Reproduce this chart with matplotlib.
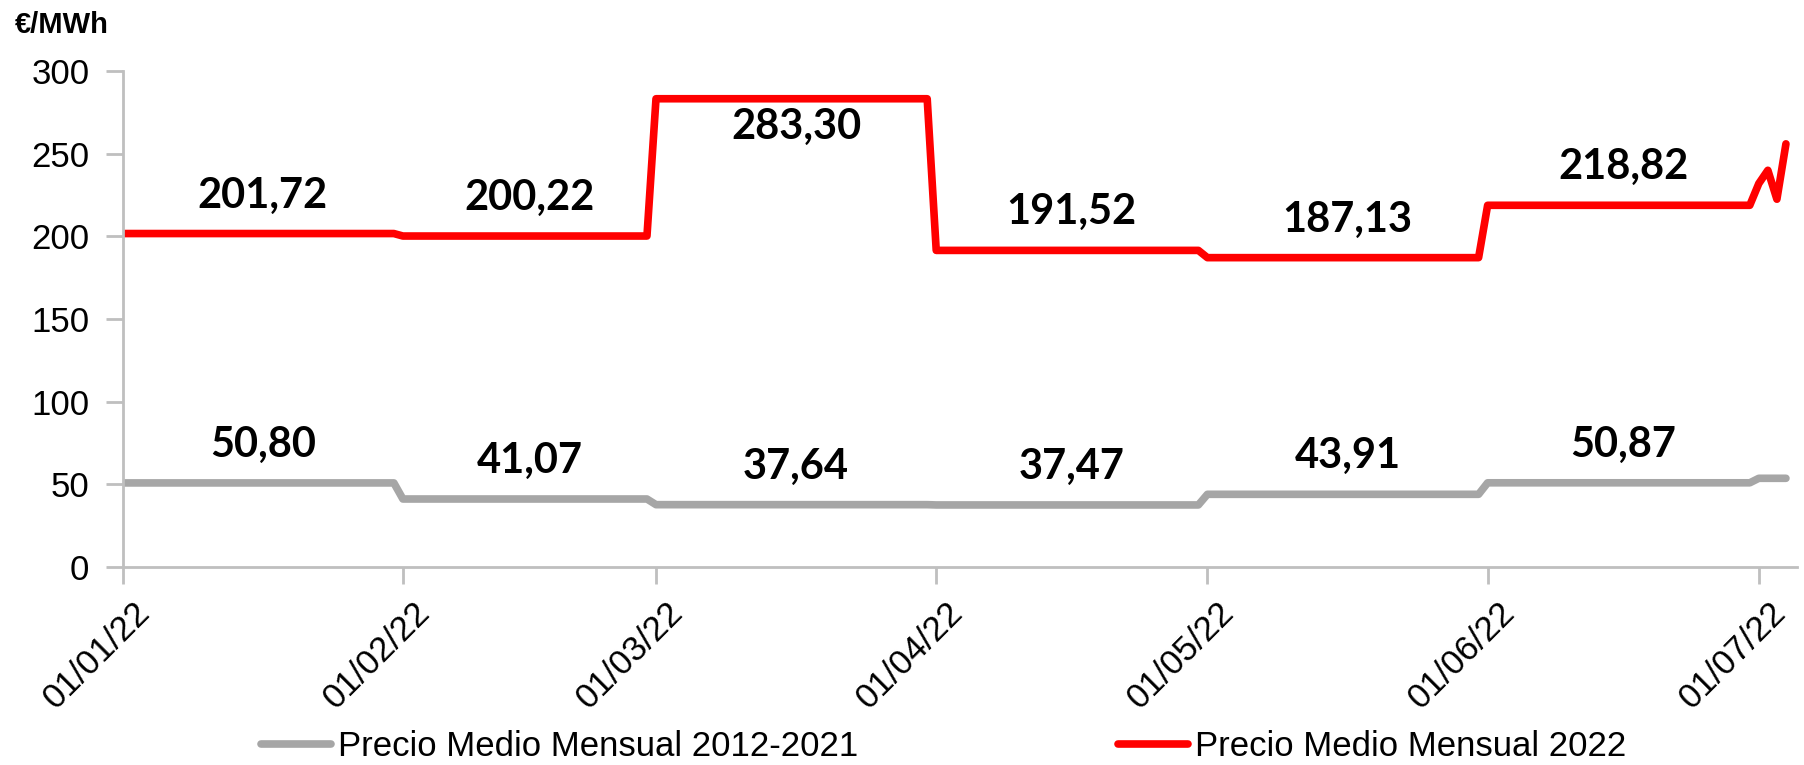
import numpy as np
import pandas as pd
import matplotlib.pyplot as plt
import matplotlib.dates as mdates
import matplotlib.transforms as mtransforms

# Datos: precio medio mensual (€/MWh)
meses = ["2022-01-01", "2022-02-01", "2022-03-01", "2022-04-01", "2022-05-01", "2022-06-01"]
dias_mes = [31, 28, 31, 30, 31, 30]
precio_2012_2021 = [50.80, 41.07, 37.64, 37.47, 43.91, 50.87]
precio_2022 = [201.72, 200.22, 283.30, 191.52, 187.13, 218.82]

# Julio 2022: valores diarios (media acumulada)
julio_dias = ["2022-07-01", "2022-07-02", "2022-07-03", "2022-07-04"]
julio_2012_2021 = [53.6, 53.6, 53.6, 53.6]
julio_2022 = [232.0, 240.0, 222.5, 256.0]

ticks_x = ["2022-01-01", "2022-02-01", "2022-03-01", "2022-04-01",
           "2022-05-01", "2022-06-01", "2022-07-01"]

# Serie diaria: cada dia toma el valor medio de su mes
fechas = pd.to_datetime(list(pd.date_range(meses[0], periods=sum(dias_mes))) + julio_dias)
serie_gris = np.concatenate([np.repeat(precio_2012_2021, dias_mes), julio_2012_2021])
serie_roja = np.concatenate([np.repeat(precio_2022, dias_mes), julio_2022])

fuente_ejes = "Liberation Sans"
fuente_etiquetas = "Lato"
gris_eje = "#bfbfbf"

fig = plt.figure(figsize=(18.04, 7.65), dpi=100)
ax = fig.add_axes([0.068, 0.259, 0.928, 0.648])

ax.plot(fechas, serie_gris, color="#a6a6a6", lw=5.5, solid_capstyle="round",
        solid_joinstyle="round", label="Precio Medio Mensual 2012-2021")
ax.plot(fechas, serie_roja, color="#ff0000", lw=5.5, solid_capstyle="round",
        solid_joinstyle="round", label="Precio Medio Mensual 2022")

# Etiquetas de valor en el centro de cada mes
for inicio, n, v_gris, v_rojo in zip(meses, dias_mes, precio_2012_2021, precio_2022):
    centro = pd.Timestamp(inicio) + pd.Timedelta(days=n / 2)
    for v in (v_gris, v_rojo):
        desplazamiento = -28 if v > 270 else 38
        ax.annotate(f"{v:.2f}".replace(".", ","), (centro, v),
                    xytext=(0, desplazamiento), textcoords="offset pixels",
                    ha="center", va="center", fontsize=30, fontweight="bold",
                    family=fuente_etiquetas, color="black")

ax.set_ylim(0, 300)
ax.set_yticks(np.arange(0, 301, 50))
ax.set_xlim(pd.Timestamp("2022-01-01"), pd.Timestamp("2022-01-01") + pd.Timedelta(days=185.2))
ax.set_xticks(pd.to_datetime(ticks_x))
ax.xaxis.set_major_formatter(mdates.DateFormatter("%d/%m/%y"))

for lado in ["top", "right"]:
    ax.spines[lado].set_visible(False)
for lado in ["left", "bottom"]:
    ax.spines[lado].set_color(gris_eje)
    ax.spines[lado].set_linewidth(2)

ax.tick_params(axis="both", colors=gris_eje, length=12, width=2, direction="out")
ax.tick_params(axis="y", labelcolor="black", labelsize=25, pad=12)
ax.tick_params(axis="x", labelcolor="black", labelsize=25, pad=9)
for t in ax.get_yticklabels() + ax.get_xticklabels():
    t.set_family(fuente_ejes)

# Etiquetas del eje x giradas 45 grados, algo desplazadas a la derecha
desplaza = mtransforms.ScaledTranslation(10 / 100, 0, fig.dpi_scale_trans)
for t in ax.get_xticklabels():
    t.set_rotation(45)
    t.set_ha("right")
    t.set_rotation_mode("anchor")
    t.set_transform(t.get_transform() + desplaza)

fig.text(0.008, 0.967, "€/MWh", fontsize=21, fontweight="bold", family=fuente_ejes,
         ha="left", va="center")

fig.legend(loc="center", bbox_to_anchor=(0.523, 0.024), ncol=2, frameon=False,
           prop={"family": fuente_ejes, "size": 25}, handlelength=2.0,
           handletextpad=0.2, columnspacing=7.5)

fig.savefig("out.png", dpi=100)
